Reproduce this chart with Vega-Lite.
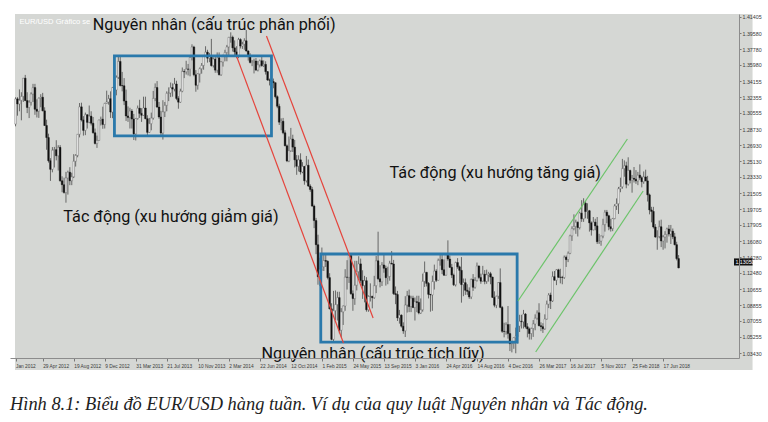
{
  "$schema": "https://vega.github.io/schema/vega-lite/v6.json",
  "width": 729,
  "height": 344,
  "autosize": {"type": "none"},
  "padding": {"left": 10, "top": 14, "right": 29, "bottom": 64},
  "background": "white",
  "title": {
    "text": "Hình 8.1: Biểu đồ EUR/USD hàng tuần. Ví dụ của quy luật Nguyên nhân và Tác động.",
    "orient": "bottom", "anchor": "start", "frame": "group",
    "font": "Liberation Serif", "fontStyle": "italic", "fontWeight": "normal",
    "fontSize": 18.4, "color": "#222222", "offset": 25
  },
  "config": {"view": {"stroke": null}, "axis": {"labelFont": "Liberation Sans"}},
  "resolve": {"axis": {"x": "independent", "y": "independent"}},
  "datasets": {
    "w": [
      {"d":"2012-01-22","o":1.2930,"h":1.3233,"l":1.2905,"c":1.3215},
      {"d":"2012-01-29","o":1.3215,"h":1.3234,"l":1.3025,"c":1.3158},
      {"d":"2012-02-05","o":1.3158,"h":1.3322,"l":1.3075,"c":1.3199},
      {"d":"2012-02-12","o":1.3199,"h":1.3290,"l":1.2973,"c":1.3243},
      {"d":"2012-02-19","o":1.3243,"h":1.3451,"l":1.3180,"c":1.3449},
      {"d":"2012-02-26","o":1.3449,"h":1.3486,"l":1.3190,"c":1.3196},
      {"d":"2012-03-04","o":1.3196,"h":1.3290,"l":1.3054,"c":1.3118},
      {"d":"2012-03-11","o":1.3118,"h":1.3200,"l":1.2998,"c":1.3176},
      {"d":"2012-03-18","o":1.3176,"h":1.3290,"l":1.3140,"c":1.3270},
      {"d":"2012-03-25","o":1.3270,"h":1.3385,"l":1.3180,"c":1.3343},
      {"d":"2012-04-01","o":1.3343,"h":1.3385,"l":1.3035,"c":1.3097},
      {"d":"2012-04-08","o":1.3097,"h":1.3210,"l":1.3005,"c":1.3076},
      {"d":"2012-04-15","o":1.3076,"h":1.3230,"l":1.3000,"c":1.3223},
      {"d":"2012-04-22","o":1.3223,"h":1.3268,"l":1.3120,"c":1.3234},
      {"d":"2012-04-29","o":1.3234,"h":1.3283,"l":1.3075,"c":1.3080},
      {"d":"2012-05-06","o":1.3080,"h":1.3120,"l":1.2910,"c":1.2914},
      {"d":"2012-05-13","o":1.2914,"h":1.2980,"l":1.2640,"c":1.2778},
      {"d":"2012-05-20","o":1.2778,"h":1.2822,"l":1.2495,"c":1.2516},
      {"d":"2012-05-27","o":1.2516,"h":1.2545,"l":1.2288,"c":1.2419},
      {"d":"2012-06-03","o":1.2419,"h":1.2670,"l":1.2385,"c":1.2635},
      {"d":"2012-06-10","o":1.2635,"h":1.2672,"l":1.2440,"c":1.2641},
      {"d":"2012-06-17","o":1.2641,"h":1.2748,"l":1.2520,"c":1.2572},
      {"d":"2012-06-24","o":1.2572,"h":1.2692,"l":1.2405,"c":1.2667},
      {"d":"2012-07-01","o":1.2667,"h":1.2693,"l":1.2280,"c":1.2289},
      {"d":"2012-07-08","o":1.2289,"h":1.2340,"l":1.2160,"c":1.2245},
      {"d":"2012-07-15","o":1.2245,"h":1.2325,"l":1.2145,"c":1.2156},
      {"d":"2012-07-22","o":1.2156,"h":1.2390,"l":1.2042,"c":1.2321},
      {"d":"2012-07-29","o":1.2321,"h":1.2404,"l":1.2133,"c":1.2386},
      {"d":"2012-08-05","o":1.2386,"h":1.2443,"l":1.2240,"c":1.2290},
      {"d":"2012-08-12","o":1.2290,"h":1.2380,"l":1.2240,"c":1.2334},
      {"d":"2012-08-19","o":1.2334,"h":1.2590,"l":1.2320,"c":1.2510},
      {"d":"2012-08-26","o":1.2510,"h":1.2590,"l":1.2450,"c":1.2576},
      {"d":"2012-09-02","o":1.2576,"h":1.2817,"l":1.2555,"c":1.2815},
      {"d":"2012-09-09","o":1.2815,"h":1.3168,"l":1.2780,"c":1.3125},
      {"d":"2012-09-16","o":1.3125,"h":1.3172,"l":1.2960,"c":1.2977},
      {"d":"2012-09-23","o":1.2977,"h":1.3020,"l":1.2800,"c":1.2859},
      {"d":"2012-09-30","o":1.2859,"h":1.3060,"l":1.2805,"c":1.3036},
      {"d":"2012-10-07","o":1.3036,"h":1.3040,"l":1.2880,"c":1.2950},
      {"d":"2012-10-14","o":1.2950,"h":1.3140,"l":1.2940,"c":1.3020},
      {"d":"2012-10-21","o":1.3020,"h":1.3075,"l":1.2915,"c":1.2940},
      {"d":"2012-10-28","o":1.2940,"h":1.3010,"l":1.2822,"c":1.2832},
      {"d":"2012-11-04","o":1.2832,"h":1.2880,"l":1.2700,"c":1.2711},
      {"d":"2012-11-11","o":1.2711,"h":1.2800,"l":1.2661,"c":1.2745},
      {"d":"2012-11-18","o":1.2745,"h":1.2980,"l":1.2740,"c":1.2975},
      {"d":"2012-11-25","o":1.2975,"h":1.3015,"l":1.2915,"c":1.2986},
      {"d":"2012-12-02","o":1.2986,"h":1.3127,"l":1.2877,"c":1.2926},
      {"d":"2012-12-09","o":1.2926,"h":1.3170,"l":1.2880,"c":1.3164},
      {"d":"2012-12-16","o":1.3164,"h":1.3308,"l":1.3160,"c":1.3180},
      {"d":"2012-12-23","o":1.3180,"h":1.3260,"l":1.3150,"c":1.3217},
      {"d":"2012-12-30","o":1.3217,"h":1.3300,"l":1.3000,"c":1.3066},
      {"d":"2013-01-06","o":1.3066,"h":1.3350,"l":1.2997,"c":1.3343},
      {"d":"2013-01-13","o":1.3343,"h":1.3403,"l":1.3255,"c":1.3316},
      {"d":"2013-01-20","o":1.3316,"h":1.3480,"l":1.3255,"c":1.3459},
      {"d":"2013-01-27","o":1.3459,"h":1.3711,"l":1.3440,"c":1.3638},
      {"d":"2013-02-03","o":1.3638,"h":1.3710,"l":1.3355,"c":1.3366},
      {"d":"2013-02-10","o":1.3366,"h":1.3520,"l":1.3300,"c":1.3363},
      {"d":"2013-02-17","o":1.3363,"h":1.3450,"l":1.3145,"c":1.3190},
      {"d":"2013-02-24","o":1.3190,"h":1.3320,"l":1.2966,"c":1.3022},
      {"d":"2013-03-03","o":1.3022,"h":1.3130,"l":1.2955,"c":1.3004},
      {"d":"2013-03-10","o":1.3004,"h":1.3115,"l":1.2880,"c":1.3077},
      {"d":"2013-03-17","o":1.3077,"h":1.3100,"l":1.2880,"c":1.2987},
      {"d":"2013-03-24","o":1.2987,"h":1.3045,"l":1.2750,"c":1.2819},
      {"d":"2013-03-31","o":1.2819,"h":1.3000,"l":1.2745,"c":1.2993},
      {"d":"2013-04-07","o":1.2993,"h":1.3140,"l":1.2980,"c":1.3110},
      {"d":"2013-04-14","o":1.3110,"h":1.3205,"l":1.3000,"c":1.3051},
      {"d":"2013-04-21","o":1.3051,"h":1.3110,"l":1.2955,"c":1.3030},
      {"d":"2013-04-28","o":1.3030,"h":1.3240,"l":1.3025,"c":1.3112},
      {"d":"2013-05-05","o":1.3112,"h":1.3240,"l":1.2985,"c":1.2991},
      {"d":"2013-05-12","o":1.2991,"h":1.3030,"l":1.2795,"c":1.2837},
      {"d":"2013-05-19","o":1.2837,"h":1.3000,"l":1.2830,"c":1.2935},
      {"d":"2013-05-26","o":1.2935,"h":1.3060,"l":1.2860,"c":1.2998},
      {"d":"2013-06-02","o":1.2998,"h":1.3305,"l":1.2980,"c":1.3220},
      {"d":"2013-06-09","o":1.3220,"h":1.3390,"l":1.3190,"c":1.3344},
      {"d":"2013-06-16","o":1.3344,"h":1.3416,"l":1.3115,"c":1.3122},
      {"d":"2013-06-23","o":1.3122,"h":1.3180,"l":1.2990,"c":1.3010},
      {"d":"2013-06-30","o":1.3010,"h":1.3080,"l":1.2805,"c":1.2830},
      {"d":"2013-07-07","o":1.2830,"h":1.3200,"l":1.2755,"c":1.3068},
      {"d":"2013-07-14","o":1.3068,"h":1.3180,"l":1.3010,"c":1.3142},
      {"d":"2013-07-21","o":1.3142,"h":1.3300,"l":1.3075,"c":1.3278},
      {"d":"2013-07-28","o":1.3278,"h":1.3345,"l":1.3190,"c":1.3282},
      {"d":"2013-08-04","o":1.3282,"h":1.3400,"l":1.3235,"c":1.3343},
      {"d":"2013-08-11","o":1.3343,"h":1.3390,"l":1.3240,"c":1.3326},
      {"d":"2013-08-18","o":1.3326,"h":1.3452,"l":1.3300,"c":1.3383},
      {"d":"2013-08-25","o":1.3383,"h":1.3420,"l":1.3200,"c":1.3220},
      {"d":"2013-09-01","o":1.3220,"h":1.3245,"l":1.3104,"c":1.3178},
      {"d":"2013-09-08","o":1.3178,"h":1.3330,"l":1.3170,"c":1.3302},
      {"d":"2013-09-15","o":1.3302,"h":1.3570,"l":1.3290,"c":1.3525},
      {"d":"2013-09-22","o":1.3525,"h":1.3550,"l":1.3450,"c":1.3521},
      {"d":"2013-09-29","o":1.3521,"h":1.3646,"l":1.3490,"c":1.3552},
      {"d":"2013-10-06","o":1.3552,"h":1.3610,"l":1.3480,"c":1.3551},
      {"d":"2013-10-13","o":1.3551,"h":1.3705,"l":1.3470,"c":1.3683},
      {"d":"2013-10-20","o":1.3683,"h":1.3832,"l":1.3650,"c":1.3802},
      {"d":"2013-10-27","o":1.3802,"h":1.3815,"l":1.3470,"c":1.3487},
      {"d":"2013-11-03","o":1.3487,"h":1.3540,"l":1.3296,"c":1.3369},
      {"d":"2013-11-10","o":1.3369,"h":1.3505,"l":1.3320,"c":1.3498},
      {"d":"2013-11-17","o":1.3498,"h":1.3570,"l":1.3400,"c":1.3556},
      {"d":"2013-11-24","o":1.3556,"h":1.3620,"l":1.3500,"c":1.3593},
      {"d":"2013-12-01","o":1.3593,"h":1.3710,"l":1.3545,"c":1.3707},
      {"d":"2013-12-08","o":1.3707,"h":1.3810,"l":1.3690,"c":1.3743},
      {"d":"2013-12-15","o":1.3743,"h":1.3770,"l":1.3625,"c":1.3675},
      {"d":"2013-12-22","o":1.3675,"h":1.3735,"l":1.3630,"c":1.3705},
      {"d":"2013-12-29","o":1.3705,"h":1.3893,"l":1.3580,"c":1.3591},
      {"d":"2014-01-05","o":1.3591,"h":1.3685,"l":1.3570,"c":1.3665},
      {"d":"2014-01-12","o":1.3665,"h":1.3702,"l":1.3510,"c":1.3540},
      {"d":"2014-01-19","o":1.3540,"h":1.3740,"l":1.3510,"c":1.3679},
      {"d":"2014-01-26","o":1.3679,"h":1.3740,"l":1.3480,"c":1.3488},
      {"d":"2014-02-02","o":1.3488,"h":1.3640,"l":1.3475,"c":1.3633},
      {"d":"2014-02-09","o":1.3633,"h":1.3715,"l":1.3580,"c":1.3695},
      {"d":"2014-02-16","o":1.3695,"h":1.3770,"l":1.3640,"c":1.3740},
      {"d":"2014-02-23","o":1.3740,"h":1.3825,"l":1.3640,"c":1.3802},
      {"d":"2014-03-02","o":1.3802,"h":1.3915,"l":1.3710,"c":1.3911},
      {"d":"2014-03-09","o":1.3911,"h":1.3967,"l":1.3850,"c":1.3912},
      {"d":"2014-03-16","o":1.3912,"h":1.3930,"l":1.3750,"c":1.3792},
      {"d":"2014-03-23","o":1.3792,"h":1.3876,"l":1.3705,"c":1.3746},
      {"d":"2014-03-30","o":1.3746,"h":1.3810,"l":1.3675,"c":1.3705},
      {"d":"2014-04-06","o":1.3705,"h":1.3905,"l":1.3675,"c":1.3886},
      {"d":"2014-04-13","o":1.3886,"h":1.3900,"l":1.3785,"c":1.3812},
      {"d":"2014-04-20","o":1.3812,"h":1.3860,"l":1.3780,"c":1.3833},
      {"d":"2014-04-27","o":1.3833,"h":1.3900,"l":1.3770,"c":1.3872},
      {"d":"2014-05-04","o":1.3872,"h":1.3993,"l":1.3750,"c":1.3756},
      {"d":"2014-05-11","o":1.3756,"h":1.3765,"l":1.3648,"c":1.3695},
      {"d":"2014-05-18","o":1.3695,"h":1.3730,"l":1.3615,"c":1.3627},
      {"d":"2014-05-25","o":1.3627,"h":1.3655,"l":1.3585,"c":1.3634},
      {"d":"2014-06-01","o":1.3634,"h":1.3670,"l":1.3503,"c":1.3643},
      {"d":"2014-06-08","o":1.3643,"h":1.3677,"l":1.3530,"c":1.3541},
      {"d":"2014-06-15","o":1.3541,"h":1.3645,"l":1.3525,"c":1.3600},
      {"d":"2014-06-22","o":1.3600,"h":1.3660,"l":1.3570,"c":1.3646},
      {"d":"2014-06-29","o":1.3646,"h":1.3700,"l":1.3580,"c":1.3590},
      {"d":"2014-07-06","o":1.3590,"h":1.3650,"l":1.3575,"c":1.3605},
      {"d":"2014-07-13","o":1.3605,"h":1.3640,"l":1.3490,"c":1.3523},
      {"d":"2014-07-20","o":1.3523,"h":1.3530,"l":1.3420,"c":1.3428},
      {"d":"2014-07-27","o":1.3428,"h":1.3445,"l":1.3367,"c":1.3426},
      {"d":"2014-08-03","o":1.3426,"h":1.3440,"l":1.3333,"c":1.3411},
      {"d":"2014-08-10","o":1.3411,"h":1.3445,"l":1.3335,"c":1.3398},
      {"d":"2014-08-17","o":1.3398,"h":1.3400,"l":1.3220,"c":1.3240},
      {"d":"2014-08-24","o":1.3240,"h":1.3255,"l":1.3110,"c":1.3132},
      {"d":"2014-08-31","o":1.3132,"h":1.3160,"l":1.2920,"c":1.2952},
      {"d":"2014-09-07","o":1.2952,"h":1.2995,"l":1.2860,"c":1.2963},
      {"d":"2014-09-14","o":1.2963,"h":1.3000,"l":1.2815,"c":1.2831},
      {"d":"2014-09-21","o":1.2831,"h":1.2860,"l":1.2680,"c":1.2684},
      {"d":"2014-09-28","o":1.2684,"h":1.2700,"l":1.2500,"c":1.2514},
      {"d":"2014-10-05","o":1.2514,"h":1.2790,"l":1.2500,"c":1.2629},
      {"d":"2014-10-12","o":1.2629,"h":1.2887,"l":1.2615,"c":1.2761},
      {"d":"2014-10-19","o":1.2761,"h":1.2810,"l":1.2615,"c":1.2670},
      {"d":"2014-10-26","o":1.2670,"h":1.2750,"l":1.2440,"c":1.2526},
      {"d":"2014-11-02","o":1.2526,"h":1.2580,"l":1.2357,"c":1.2454},
      {"d":"2014-11-09","o":1.2454,"h":1.2577,"l":1.2395,"c":1.2526},
      {"d":"2014-11-16","o":1.2526,"h":1.2600,"l":1.2360,"c":1.2389},
      {"d":"2014-11-23","o":1.2389,"h":1.2500,"l":1.2375,"c":1.2452},
      {"d":"2014-11-30","o":1.2452,"h":1.2455,"l":1.2245,"c":1.2290},
      {"d":"2014-12-07","o":1.2290,"h":1.2570,"l":1.2270,"c":1.2465},
      {"d":"2014-12-14","o":1.2465,"h":1.2530,"l":1.2220,"c":1.2230},
      {"d":"2014-12-21","o":1.2230,"h":1.2250,"l":1.2165,"c":1.2191},
      {"d":"2014-12-28","o":1.2191,"h":1.2220,"l":1.2000,"c":1.2003},
      {"d":"2015-01-04","o":1.2003,"h":1.2020,"l":1.1754,"c":1.1840},
      {"d":"2015-01-11","o":1.1840,"h":1.1870,"l":1.1460,"c":1.1567},
      {"d":"2015-01-18","o":1.1567,"h":1.1680,"l":1.1115,"c":1.1205},
      {"d":"2015-01-25","o":1.1205,"h":1.1420,"l":1.1098,"c":1.1290},
      {"d":"2015-02-01","o":1.1290,"h":1.1535,"l":1.1270,"c":1.1317},
      {"d":"2015-02-08","o":1.1317,"h":1.1450,"l":1.1270,"c":1.1388},
      {"d":"2015-02-15","o":1.1388,"h":1.1450,"l":1.1315,"c":1.1380},
      {"d":"2015-02-22","o":1.1380,"h":1.1390,"l":1.1175,"c":1.1195},
      {"d":"2015-03-01","o":1.1195,"h":1.1245,"l":1.0836,"c":1.0842},
      {"d":"2015-03-08","o":1.0842,"h":1.0905,"l":1.0487,"c":1.0497},
      {"d":"2015-03-15","o":1.0497,"h":1.1045,"l":1.0462,"c":1.0821},
      {"d":"2015-03-22","o":1.0821,"h":1.1050,"l":1.0715,"c":1.0890},
      {"d":"2015-03-29","o":1.0890,"h":1.1035,"l":1.0710,"c":1.0969},
      {"d":"2015-04-05","o":1.0969,"h":1.1035,"l":1.0565,"c":1.0600},
      {"d":"2015-04-12","o":1.0600,"h":1.0850,"l":1.0520,"c":1.0808},
      {"d":"2015-04-19","o":1.0808,"h":1.0880,"l":1.0660,"c":1.0874},
      {"d":"2015-04-26","o":1.0874,"h":1.1290,"l":1.0820,"c":1.1200},
      {"d":"2015-05-03","o":1.1200,"h":1.1392,"l":1.1060,"c":1.1198},
      {"d":"2015-05-10","o":1.1198,"h":1.1467,"l":1.1135,"c":1.1446},
      {"d":"2015-05-17","o":1.1446,"h":1.1450,"l":1.1000,"c":1.1014},
      {"d":"2015-05-24","o":1.1014,"h":1.1050,"l":1.0820,"c":1.0958},
      {"d":"2015-05-31","o":1.0958,"h":1.1385,"l":1.0887,"c":1.1109},
      {"d":"2015-06-07","o":1.1109,"h":1.1385,"l":1.1050,"c":1.1262},
      {"d":"2015-06-14","o":1.1262,"h":1.1437,"l":1.1185,"c":1.1350},
      {"d":"2015-06-21","o":1.1350,"h":1.1410,"l":1.1135,"c":1.1163},
      {"d":"2015-06-28","o":1.1163,"h":1.1278,"l":1.0955,"c":1.1105},
      {"d":"2015-07-05","o":1.1105,"h":1.1215,"l":1.0915,"c":1.1160},
      {"d":"2015-07-12","o":1.1160,"h":1.1200,"l":1.0810,"c":1.0832},
      {"d":"2015-07-19","o":1.0832,"h":1.0995,"l":1.0808,"c":1.0982},
      {"d":"2015-07-26","o":1.0982,"h":1.1130,"l":1.0925,"c":1.0983},
      {"d":"2015-08-02","o":1.0983,"h":1.0990,"l":1.0848,"c":1.0968},
      {"d":"2015-08-09","o":1.0968,"h":1.1215,"l":1.0955,"c":1.1104},
      {"d":"2015-08-16","o":1.1104,"h":1.1440,"l":1.1020,"c":1.1385},
      {"d":"2015-08-23","o":1.1385,"h":1.1714,"l":1.1170,"c":1.1182},
      {"d":"2015-08-30","o":1.1182,"h":1.1335,"l":1.1085,"c":1.1148},
      {"d":"2015-09-06","o":1.1148,"h":1.1370,"l":1.1100,"c":1.1338},
      {"d":"2015-09-13","o":1.1338,"h":1.1460,"l":1.1250,"c":1.1300},
      {"d":"2015-09-20","o":1.1300,"h":1.1330,"l":1.1105,"c":1.1194},
      {"d":"2015-09-27","o":1.1194,"h":1.1318,"l":1.1120,"c":1.1208},
      {"d":"2015-10-04","o":1.1208,"h":1.1385,"l":1.1160,"c":1.1357},
      {"d":"2015-10-11","o":1.1357,"h":1.1495,"l":1.1345,"c":1.1349},
      {"d":"2015-10-18","o":1.1349,"h":1.1395,"l":1.1000,"c":1.1014},
      {"d":"2015-10-25","o":1.1014,"h":1.1095,"l":1.0895,"c":1.1004},
      {"d":"2015-11-01","o":1.1004,"h":1.1045,"l":1.0705,"c":1.0740},
      {"d":"2015-11-08","o":1.0740,"h":1.0830,"l":1.0675,"c":1.0771},
      {"d":"2015-11-15","o":1.0771,"h":1.0780,"l":1.0630,"c":1.0646},
      {"d":"2015-11-22","o":1.0646,"h":1.0690,"l":1.0560,"c":1.0593},
      {"d":"2015-11-29","o":1.0593,"h":1.0985,"l":1.0524,"c":1.0885},
      {"d":"2015-12-06","o":1.0885,"h":1.1045,"l":1.0800,"c":1.0991},
      {"d":"2015-12-13","o":1.0991,"h":1.1060,"l":1.0805,"c":1.0868},
      {"d":"2015-12-20","o":1.0868,"h":1.0990,"l":1.0805,"c":1.0963},
      {"d":"2015-12-27","o":1.0963,"h":1.0990,"l":1.0850,"c":1.0858},
      {"d":"2016-01-03","o":1.0858,"h":1.0970,"l":1.0710,"c":1.0923},
      {"d":"2016-01-10","o":1.0923,"h":1.0990,"l":1.0805,"c":1.0915},
      {"d":"2016-01-17","o":1.0915,"h":1.0990,"l":1.0780,"c":1.0795},
      {"d":"2016-01-24","o":1.0795,"h":1.0960,"l":1.0785,"c":1.0831},
      {"d":"2016-01-31","o":1.0831,"h":1.1240,"l":1.0810,"c":1.1153},
      {"d":"2016-02-07","o":1.1153,"h":1.1377,"l":1.1090,"c":1.1254},
      {"d":"2016-02-14","o":1.1254,"h":1.1260,"l":1.1095,"c":1.1130},
      {"d":"2016-02-21","o":1.1130,"h":1.1145,"l":1.0960,"c":1.1006},
      {"d":"2016-02-28","o":1.1006,"h":1.1010,"l":1.0810,"c":1.0999},
      {"d":"2016-03-06","o":1.0999,"h":1.1218,"l":1.0820,"c":1.1150},
      {"d":"2016-03-13","o":1.1150,"h":1.1342,"l":1.1060,"c":1.1269},
      {"d":"2016-03-20","o":1.1269,"h":1.1290,"l":1.1145,"c":1.1165},
      {"d":"2016-03-27","o":1.1165,"h":1.1410,"l":1.1160,"c":1.1390},
      {"d":"2016-04-03","o":1.1390,"h":1.1465,"l":1.1330,"c":1.1399},
      {"d":"2016-04-10","o":1.1399,"h":1.1465,"l":1.1235,"c":1.1284},
      {"d":"2016-04-17","o":1.1284,"h":1.1400,"l":1.1215,"c":1.1223},
      {"d":"2016-04-24","o":1.1223,"h":1.1460,"l":1.1215,"c":1.1453},
      {"d":"2016-05-01","o":1.1453,"h":1.1616,"l":1.1385,"c":1.1405},
      {"d":"2016-05-08","o":1.1405,"h":1.1445,"l":1.1305,"c":1.1311},
      {"d":"2016-05-15","o":1.1311,"h":1.1350,"l":1.1190,"c":1.1224},
      {"d":"2016-05-22","o":1.1224,"h":1.1240,"l":1.1100,"c":1.1114},
      {"d":"2016-05-29","o":1.1114,"h":1.1375,"l":1.1095,"c":1.1365},
      {"d":"2016-06-05","o":1.1365,"h":1.1415,"l":1.1295,"c":1.1317},
      {"d":"2016-06-12","o":1.1317,"h":1.1330,"l":1.1130,"c":1.1277},
      {"d":"2016-06-19","o":1.1277,"h":1.1427,"l":1.0912,"c":1.1116},
      {"d":"2016-06-26","o":1.1116,"h":1.1185,"l":1.0985,"c":1.1138},
      {"d":"2016-07-03","o":1.1138,"h":1.1185,"l":1.1000,"c":1.1052},
      {"d":"2016-07-10","o":1.1052,"h":1.1120,"l":1.1000,"c":1.1040},
      {"d":"2016-07-17","o":1.1040,"h":1.1085,"l":1.0955,"c":1.0977},
      {"d":"2016-07-24","o":1.0977,"h":1.1185,"l":1.0952,"c":1.1174},
      {"d":"2016-07-31","o":1.1174,"h":1.1235,"l":1.1045,"c":1.1086},
      {"d":"2016-08-07","o":1.1086,"h":1.1200,"l":1.1070,"c":1.1163},
      {"d":"2016-08-14","o":1.1163,"h":1.1365,"l":1.1150,"c":1.1325},
      {"d":"2016-08-21","o":1.1325,"h":1.1335,"l":1.1180,"c":1.1197},
      {"d":"2016-08-28","o":1.1197,"h":1.1240,"l":1.1125,"c":1.1155},
      {"d":"2016-09-04","o":1.1155,"h":1.1328,"l":1.1150,"c":1.1233},
      {"d":"2016-09-11","o":1.1233,"h":1.1280,"l":1.1120,"c":1.1153},
      {"d":"2016-09-18","o":1.1153,"h":1.1285,"l":1.1125,"c":1.1226},
      {"d":"2016-09-25","o":1.1226,"h":1.1260,"l":1.1150,"c":1.1239},
      {"d":"2016-10-02","o":1.1239,"h":1.1260,"l":1.1120,"c":1.1201},
      {"d":"2016-10-09","o":1.1201,"h":1.1205,"l":1.0965,"c":1.0972},
      {"d":"2016-10-16","o":1.0972,"h":1.1040,"l":1.0860,"c":1.0883},
      {"d":"2016-10-23","o":1.0883,"h":1.0990,"l":1.0850,"c":1.0985},
      {"d":"2016-10-30","o":1.0985,"h":1.1145,"l":1.0955,"c":1.1139},
      {"d":"2016-11-06","o":1.1139,"h":1.1299,"l":1.0850,"c":1.0859},
      {"d":"2016-11-13","o":1.0859,"h":1.0875,"l":1.0570,"c":1.0588},
      {"d":"2016-11-20","o":1.0588,"h":1.0685,"l":1.0520,"c":1.0586},
      {"d":"2016-11-27","o":1.0586,"h":1.0690,"l":1.0550,"c":1.0664},
      {"d":"2016-12-04","o":1.0664,"h":1.0874,"l":1.0505,"c":1.0562},
      {"d":"2016-12-11","o":1.0562,"h":1.0670,"l":1.0365,"c":1.0448},
      {"d":"2016-12-18","o":1.0448,"h":1.0470,"l":1.0350,"c":1.0452},
      {"d":"2016-12-25","o":1.0452,"h":1.0520,"l":1.0390,"c":1.0517},
      {"d":"2017-01-01","o":1.0517,"h":1.0630,"l":1.0340,"c":1.0532},
      {"d":"2017-01-08","o":1.0532,"h":1.0685,"l":1.0450,"c":1.0647},
      {"d":"2017-01-15","o":1.0647,"h":1.0775,"l":1.0580,"c":1.0702},
      {"d":"2017-01-22","o":1.0702,"h":1.0775,"l":1.0620,"c":1.0696},
      {"d":"2017-01-29","o":1.0696,"h":1.0830,"l":1.0620,"c":1.0783},
      {"d":"2017-02-05","o":1.0783,"h":1.0795,"l":1.0620,"c":1.0640},
      {"d":"2017-02-12","o":1.0640,"h":1.0680,"l":1.0520,"c":1.0615},
      {"d":"2017-02-19","o":1.0615,"h":1.0630,"l":1.0495,"c":1.0563},
      {"d":"2017-02-26","o":1.0563,"h":1.0630,"l":1.0495,"c":1.0620},
      {"d":"2017-03-05","o":1.0620,"h":1.0715,"l":1.0525,"c":1.0671},
      {"d":"2017-03-12","o":1.0671,"h":1.0780,"l":1.0600,"c":1.0737},
      {"d":"2017-03-19","o":1.0737,"h":1.0825,"l":1.0720,"c":1.0797},
      {"d":"2017-03-26","o":1.0797,"h":1.0905,"l":1.0645,"c":1.0652},
      {"d":"2017-04-02","o":1.0652,"h":1.0690,"l":1.0590,"c":1.0641},
      {"d":"2017-04-09","o":1.0641,"h":1.0680,"l":1.0570,"c":1.0616},
      {"d":"2017-04-16","o":1.0616,"h":1.0780,"l":1.0605,"c":1.0727},
      {"d":"2017-04-23","o":1.0727,"h":1.0935,"l":1.0720,"c":1.0895},
      {"d":"2017-04-30","o":1.0895,"h":1.1020,"l":1.0850,"c":1.0998},
      {"d":"2017-05-07","o":1.0998,"h":1.1025,"l":1.0840,"c":1.0932},
      {"d":"2017-05-14","o":1.0932,"h":1.1265,"l":1.0920,"c":1.1206},
      {"d":"2017-05-21","o":1.1206,"h":1.1270,"l":1.1160,"c":1.1166},
      {"d":"2017-05-28","o":1.1166,"h":1.1290,"l":1.1110,"c":1.1283},
      {"d":"2017-06-04","o":1.1283,"h":1.1295,"l":1.1190,"c":1.1199},
      {"d":"2017-06-11","o":1.1199,"h":1.1295,"l":1.1130,"c":1.1198},
      {"d":"2017-06-18","o":1.1198,"h":1.1215,"l":1.1120,"c":1.1196},
      {"d":"2017-06-25","o":1.1196,"h":1.1445,"l":1.1180,"c":1.1426},
      {"d":"2017-07-02","o":1.1426,"h":1.1445,"l":1.1315,"c":1.1399},
      {"d":"2017-07-09","o":1.1399,"h":1.1490,"l":1.1370,"c":1.1469},
      {"d":"2017-07-16","o":1.1469,"h":1.1680,"l":1.1460,"c":1.1667},
      {"d":"2017-07-23","o":1.1667,"h":1.1775,"l":1.1610,"c":1.1749},
      {"d":"2017-07-30","o":1.1749,"h":1.1910,"l":1.1730,"c":1.1774},
      {"d":"2017-08-06","o":1.1774,"h":1.1850,"l":1.1690,"c":1.1821},
      {"d":"2017-08-13","o":1.1821,"h":1.1830,"l":1.1660,"c":1.1761},
      {"d":"2017-08-20","o":1.1761,"h":1.1940,"l":1.1740,"c":1.1924},
      {"d":"2017-08-27","o":1.1924,"h":1.2070,"l":1.1825,"c":1.1860},
      {"d":"2017-09-03","o":1.1860,"h":1.2092,"l":1.1825,"c":1.2036},
      {"d":"2017-09-10","o":1.2036,"h":1.2060,"l":1.1865,"c":1.1942},
      {"d":"2017-09-17","o":1.1942,"h":1.2035,"l":1.1860,"c":1.1951},
      {"d":"2017-09-24","o":1.1951,"h":1.1960,"l":1.1715,"c":1.1814},
      {"d":"2017-10-01","o":1.1814,"h":1.1830,"l":1.1670,"c":1.1734},
      {"d":"2017-10-08","o":1.1734,"h":1.1880,"l":1.1730,"c":1.1822},
      {"d":"2017-10-15","o":1.1822,"h":1.1860,"l":1.1730,"c":1.1780},
      {"d":"2017-10-22","o":1.1780,"h":1.1880,"l":1.1575,"c":1.1600},
      {"d":"2017-10-29","o":1.1600,"h":1.1690,"l":1.1575,"c":1.1608},
      {"d":"2017-11-05","o":1.1608,"h":1.1670,"l":1.1555,"c":1.1665},
      {"d":"2017-11-12","o":1.1665,"h":1.1860,"l":1.1640,"c":1.1794},
      {"d":"2017-11-19","o":1.1794,"h":1.1960,"l":1.1715,"c":1.1934},
      {"d":"2017-11-26","o":1.1934,"h":1.1960,"l":1.1810,"c":1.1894},
      {"d":"2017-12-03","o":1.1894,"h":1.1905,"l":1.1730,"c":1.1770},
      {"d":"2017-12-10","o":1.1770,"h":1.1860,"l":1.1715,"c":1.1749},
      {"d":"2017-12-17","o":1.1749,"h":1.1870,"l":1.1720,"c":1.1862},
      {"d":"2017-12-24","o":1.1862,"h":1.2025,"l":1.1855,"c":1.2005},
      {"d":"2017-12-31","o":1.2005,"h":1.2090,"l":1.1960,"c":1.2030},
      {"d":"2018-01-07","o":1.2030,"h":1.2220,"l":1.1915,"c":1.2200},
      {"d":"2018-01-14","o":1.2200,"h":1.2325,"l":1.2160,"c":1.2221},
      {"d":"2018-01-21","o":1.2221,"h":1.2537,"l":1.2200,"c":1.2427},
      {"d":"2018-01-28","o":1.2427,"h":1.2520,"l":1.2335,"c":1.2459},
      {"d":"2018-02-04","o":1.2459,"h":1.2505,"l":1.2205,"c":1.2251},
      {"d":"2018-02-11","o":1.2251,"h":1.2555,"l":1.2235,"c":1.2406},
      {"d":"2018-02-18","o":1.2406,"h":1.2415,"l":1.2260,"c":1.2296},
      {"d":"2018-02-25","o":1.2296,"h":1.2355,"l":1.2155,"c":1.2317},
      {"d":"2018-03-04","o":1.2317,"h":1.2445,"l":1.2270,"c":1.2307},
      {"d":"2018-03-11","o":1.2307,"h":1.2410,"l":1.2255,"c":1.2288},
      {"d":"2018-03-18","o":1.2288,"h":1.2390,"l":1.2240,"c":1.2353},
      {"d":"2018-03-25","o":1.2353,"h":1.2475,"l":1.2300,"c":1.2324},
      {"d":"2018-04-01","o":1.2324,"h":1.2340,"l":1.2215,"c":1.2279},
      {"d":"2018-04-08","o":1.2279,"h":1.2395,"l":1.2255,"c":1.2333},
      {"d":"2018-04-15","o":1.2333,"h":1.2415,"l":1.2285,"c":1.2288},
      {"d":"2018-04-22","o":1.2288,"h":1.2345,"l":1.2055,"c":1.2130},
      {"d":"2018-04-29","o":1.2130,"h":1.2145,"l":1.1910,"c":1.1960},
      {"d":"2018-05-06","o":1.1960,"h":1.1995,"l":1.1820,"c":1.1943},
      {"d":"2018-05-13","o":1.1943,"h":1.1995,"l":1.1750,"c":1.1767},
      {"d":"2018-05-20","o":1.1767,"h":1.1800,"l":1.1645,"c":1.1654},
      {"d":"2018-05-27","o":1.1654,"h":1.1730,"l":1.1510,"c":1.1659},
      {"d":"2018-06-03","o":1.1659,"h":1.1840,"l":1.1640,"c":1.1770},
      {"d":"2018-06-10","o":1.1770,"h":1.1850,"l":1.1540,"c":1.1609},
      {"d":"2018-06-17","o":1.1609,"h":1.1675,"l":1.1510,"c":1.1654},
      {"d":"2018-06-24","o":1.1654,"h":1.1720,"l":1.1525,"c":1.1683},
      {"d":"2018-07-01","o":1.1683,"h":1.1760,"l":1.1590,"c":1.1745},
      {"d":"2018-07-08","o":1.1745,"h":1.1790,"l":1.1660,"c":1.1687},
      {"d":"2018-07-15","o":1.1687,"h":1.1790,"l":1.1575,"c":1.1720},
      {"d":"2018-07-22","o":1.1720,"h":1.1750,"l":1.1630,"c":1.1656},
      {"d":"2018-07-29","o":1.1656,"h":1.1700,"l":1.1560,"c":1.1567},
      {"d":"2018-08-05","o":1.1567,"h":1.1600,"l":1.1390,"c":1.1410},
      {"d":"2018-08-12","o":1.1410,"h":1.1450,"l":1.1301,"c":1.1305}
    ],
    "boxes": [
      {"x1":"2013-01-13","x2":"2014-08-03","y1":1.3700,"y2":1.2796},
      {"x1":"2015-01-28","x2":"2017-01-06","y1":1.1462,"y2":1.0467}
    ],
    "lines": [
      {"d1":"2014-03-31","p1":1.3688,"d2":"2015-04-20","p2":1.0456,"k":"red"},
      {"d1":"2014-07-16","p1":1.3926,"d2":"2015-08-05","p2":1.0739,"k":"red"},
      {"d1":"2017-01-09","p1":1.0931,"d2":"2018-02-08","p2":1.2762,"k":"green"},
      {"d1":"2017-03-14","p1":1.0354,"d2":"2018-04-06","p2":1.2174,"k":"green"}
    ],
    "notes": [
      {"d":"2014-01-08","p":1.4050,"t":"Nguyên nhân (cấu trúc phân phối)"},
      {"d":"2013-08-05","p":1.1880,"t":"Tác động (xu hướng giảm giá)"},
      {"d":"2015-08-05","p":1.0332,"t":"Nguyên nhân (cấu trúc tích lũy)"},
      {"d":"2016-10-19","p":1.2377,"t":"Tác động (xu hướng tăng giá)"}
    ]
  },
  "layer": [
    {
      "data": {"values": [{}]},
      "mark": {"type": "rect", "fill": "#d5d7d4"},
      "encoding": {
        "x": {"datum": {"year": 2012, "month": 1, "date": 20, "utc": true}, "type": "temporal", "axis": null},
        "x2": {"datum": {"year": 2019, "month": 5, "date": 6, "utc": true}},
        "y": {"datum": 1.4174, "type": "quantitative", "axis": null},
        "y2": {"datum": 1.0151}
      }
    },
    {
      "data": {"name": "w"},
      "mark": {"type": "rule", "color": "#5a5a5a", "strokeWidth": 0.9},
      "encoding": {
        "x": {
          "field": "d", "type": "temporal",
          "scale": {"type": "utc", "nice": false, "domain": [{"year": 2012, "month": 1, "date": 20, "utc": true}, {"year": 2019, "month": 2, "date": 28, "utc": true}]},
          "axis": {
            "title": null, "grid": false, "orient": "bottom", "zindex": 1,
            "values": [
              {"year": 2012, "month": 1, "date": 22, "utc": true},
              {"year": 2012, "month": 4, "date": 29, "utc": true},
              {"year": 2012, "month": 8, "date": 19, "utc": true},
              {"year": 2012, "month": 12, "date": 9, "utc": true},
              {"year": 2013, "month": 3, "date": 31, "utc": true},
              {"year": 2013, "month": 7, "date": 21, "utc": true},
              {"year": 2013, "month": 11, "date": 10, "utc": true},
              {"year": 2014, "month": 3, "date": 2, "utc": true},
              {"year": 2014, "month": 6, "date": 22, "utc": true},
              {"year": 2014, "month": 10, "date": 12, "utc": true},
              {"year": 2015, "month": 2, "date": 1, "utc": true},
              {"year": 2015, "month": 5, "date": 24, "utc": true},
              {"year": 2015, "month": 9, "date": 13, "utc": true},
              {"year": 2016, "month": 1, "date": 3, "utc": true},
              {"year": 2016, "month": 4, "date": 24, "utc": true},
              {"year": 2016, "month": 8, "date": 14, "utc": true},
              {"year": 2016, "month": 12, "date": 4, "utc": true},
              {"year": 2017, "month": 3, "date": 26, "utc": true},
              {"year": 2017, "month": 7, "date": 16, "utc": true},
              {"year": 2017, "month": 11, "date": 5, "utc": true},
              {"year": 2018, "month": 2, "date": 25, "utc": true},
              {"year": 2018, "month": 6, "date": 17, "utc": true}
            ],
            "format": "%-d %b %Y",
            "labelExpr": "datum.label == '22 Jan 2012' ? 'Jan 2012' : datum.label",
            "labelAlign": "left", "labelFontSize": 4.8, "labelColor": "#3a3a3a",
            "labelPadding": 2, "labelOverlap": false, "labelFlush": false, "labelBound": false,
            "tickSize": 3, "tickColor": "#777777", "domainColor": "#8c8c8c", "domainWidth": 1
          }
        },
        "y": {
          "field": "l", "type": "quantitative",
          "scale": {"domain": [1.02865, 1.41744], "nice": false, "zero": false},
          "axis": {
            "title": null, "grid": false, "orient": "right", "zindex": 1,
            "values": [1.41405, 1.3958, 1.3778, 1.3598, 1.34155, 1.32355, 1.30555, 1.2873, 1.2693, 1.2513, 1.2333, 1.21505, 1.19705, 1.17905, 1.1608, 1.1428, 1.1248, 1.10655, 1.08855, 1.07055, 1.05255, 1.0343],
            "format": ".5f", "labelFontSize": 5.3, "labelColor": "#3a3a3a",
            "labelPadding": 1, "labelOverlap": false, "labelFlush": false, "labelBound": false,
            "tickSize": 2, "tickColor": "#777777", "domainColor": "#8c8c8c", "domainWidth": 1
          }
        },
        "y2": {"field": "h"}
      }
    },
    {
      "data": {"name": "w"},
      "mark": {"type": "bar", "size": 1.7, "strokeWidth": 0.4},
      "encoding": {
        "x": {"field": "d", "type": "temporal", "axis": null},
        "y": {"field": "o", "type": "quantitative", "axis": null},
        "y2": {"field": "c"},
        "fill": {"condition": {"test": "datum.c >= datum.o", "value": "#f3f3f3"}, "value": "#111111"},
        "stroke": {"condition": {"test": "datum.c >= datum.o", "value": "#5a5a5a"}, "value": "#111111"}
      }
    },
    {
      "data": {"name": "boxes"},
      "mark": {"type": "rect", "fillOpacity": 0, "stroke": "#2a79ab", "strokeWidth": 2.8},
      "encoding": {
        "x": {"field": "x1", "type": "temporal", "axis": null},
        "x2": {"field": "x2"},
        "y": {"field": "y1", "type": "quantitative", "axis": null},
        "y2": {"field": "y2"}
      }
    },
    {
      "data": {"name": "lines"},
      "mark": {"type": "rule", "strokeWidth": 1.2},
      "encoding": {
        "x": {"field": "d1", "type": "temporal", "axis": null},
        "x2": {"field": "d2"},
        "y": {"field": "p1", "type": "quantitative", "axis": null},
        "y2": {"field": "p2"},
        "color": {"field": "k", "type": "nominal", "scale": {"domain": ["red", "green"], "range": ["#e5443c", "#6cc46a"]}, "legend": null}
      }
    },
    {
      "data": {"name": "notes"},
      "mark": {"type": "text", "font": "Roboto", "fontSize": 16.2, "color": "#111111", "align": "center", "baseline": "middle"},
      "encoding": {
        "x": {"field": "d", "type": "temporal", "axis": null},
        "y": {"field": "p", "type": "quantitative", "axis": null},
        "text": {"field": "t"}
      }
    },
    {
      "data": {"values": [{"t": "EUR/USD Gráfico se"}]},
      "mark": {"type": "text", "font": "Liberation Sans", "fontSize": 7.6, "color": "#ffffff", "align": "left", "baseline": "middle"},
      "encoding": {
        "x": {"datum": {"year": 2012, "month": 2, "date": 5, "utc": true}, "type": "temporal", "axis": null},
        "y": {"datum": 1.4084, "type": "quantitative", "axis": null},
        "text": {"field": "t"}
      }
    },
    {
      "data": {"values": [{}]},
      "mark": {"type": "rect", "fill": "#111111"},
      "encoding": {
        "x": {"datum": {"year": 2019, "month": 2, "date": 28, "utc": true}, "type": "temporal", "axis": null},
        "x2": {"datum": {"year": 2019, "month": 5, "date": 6, "utc": true}},
        "y": {"datum": 1.1412, "type": "quantitative", "axis": null},
        "y2": {"datum": 1.1332}
      }
    },
    {
      "data": {"values": [{"t": "1.13050"}]},
      "mark": {"type": "text", "font": "Liberation Sans", "fontSize": 5.3, "color": "#ffffff", "align": "left", "baseline": "middle"},
      "encoding": {
        "x": {"datum": {"year": 2019, "month": 3, "date": 5, "utc": true}, "type": "temporal", "axis": null},
        "y": {"datum": 1.1372, "type": "quantitative", "axis": null},
        "text": {"field": "t"}
      }
    }
  ]
}
